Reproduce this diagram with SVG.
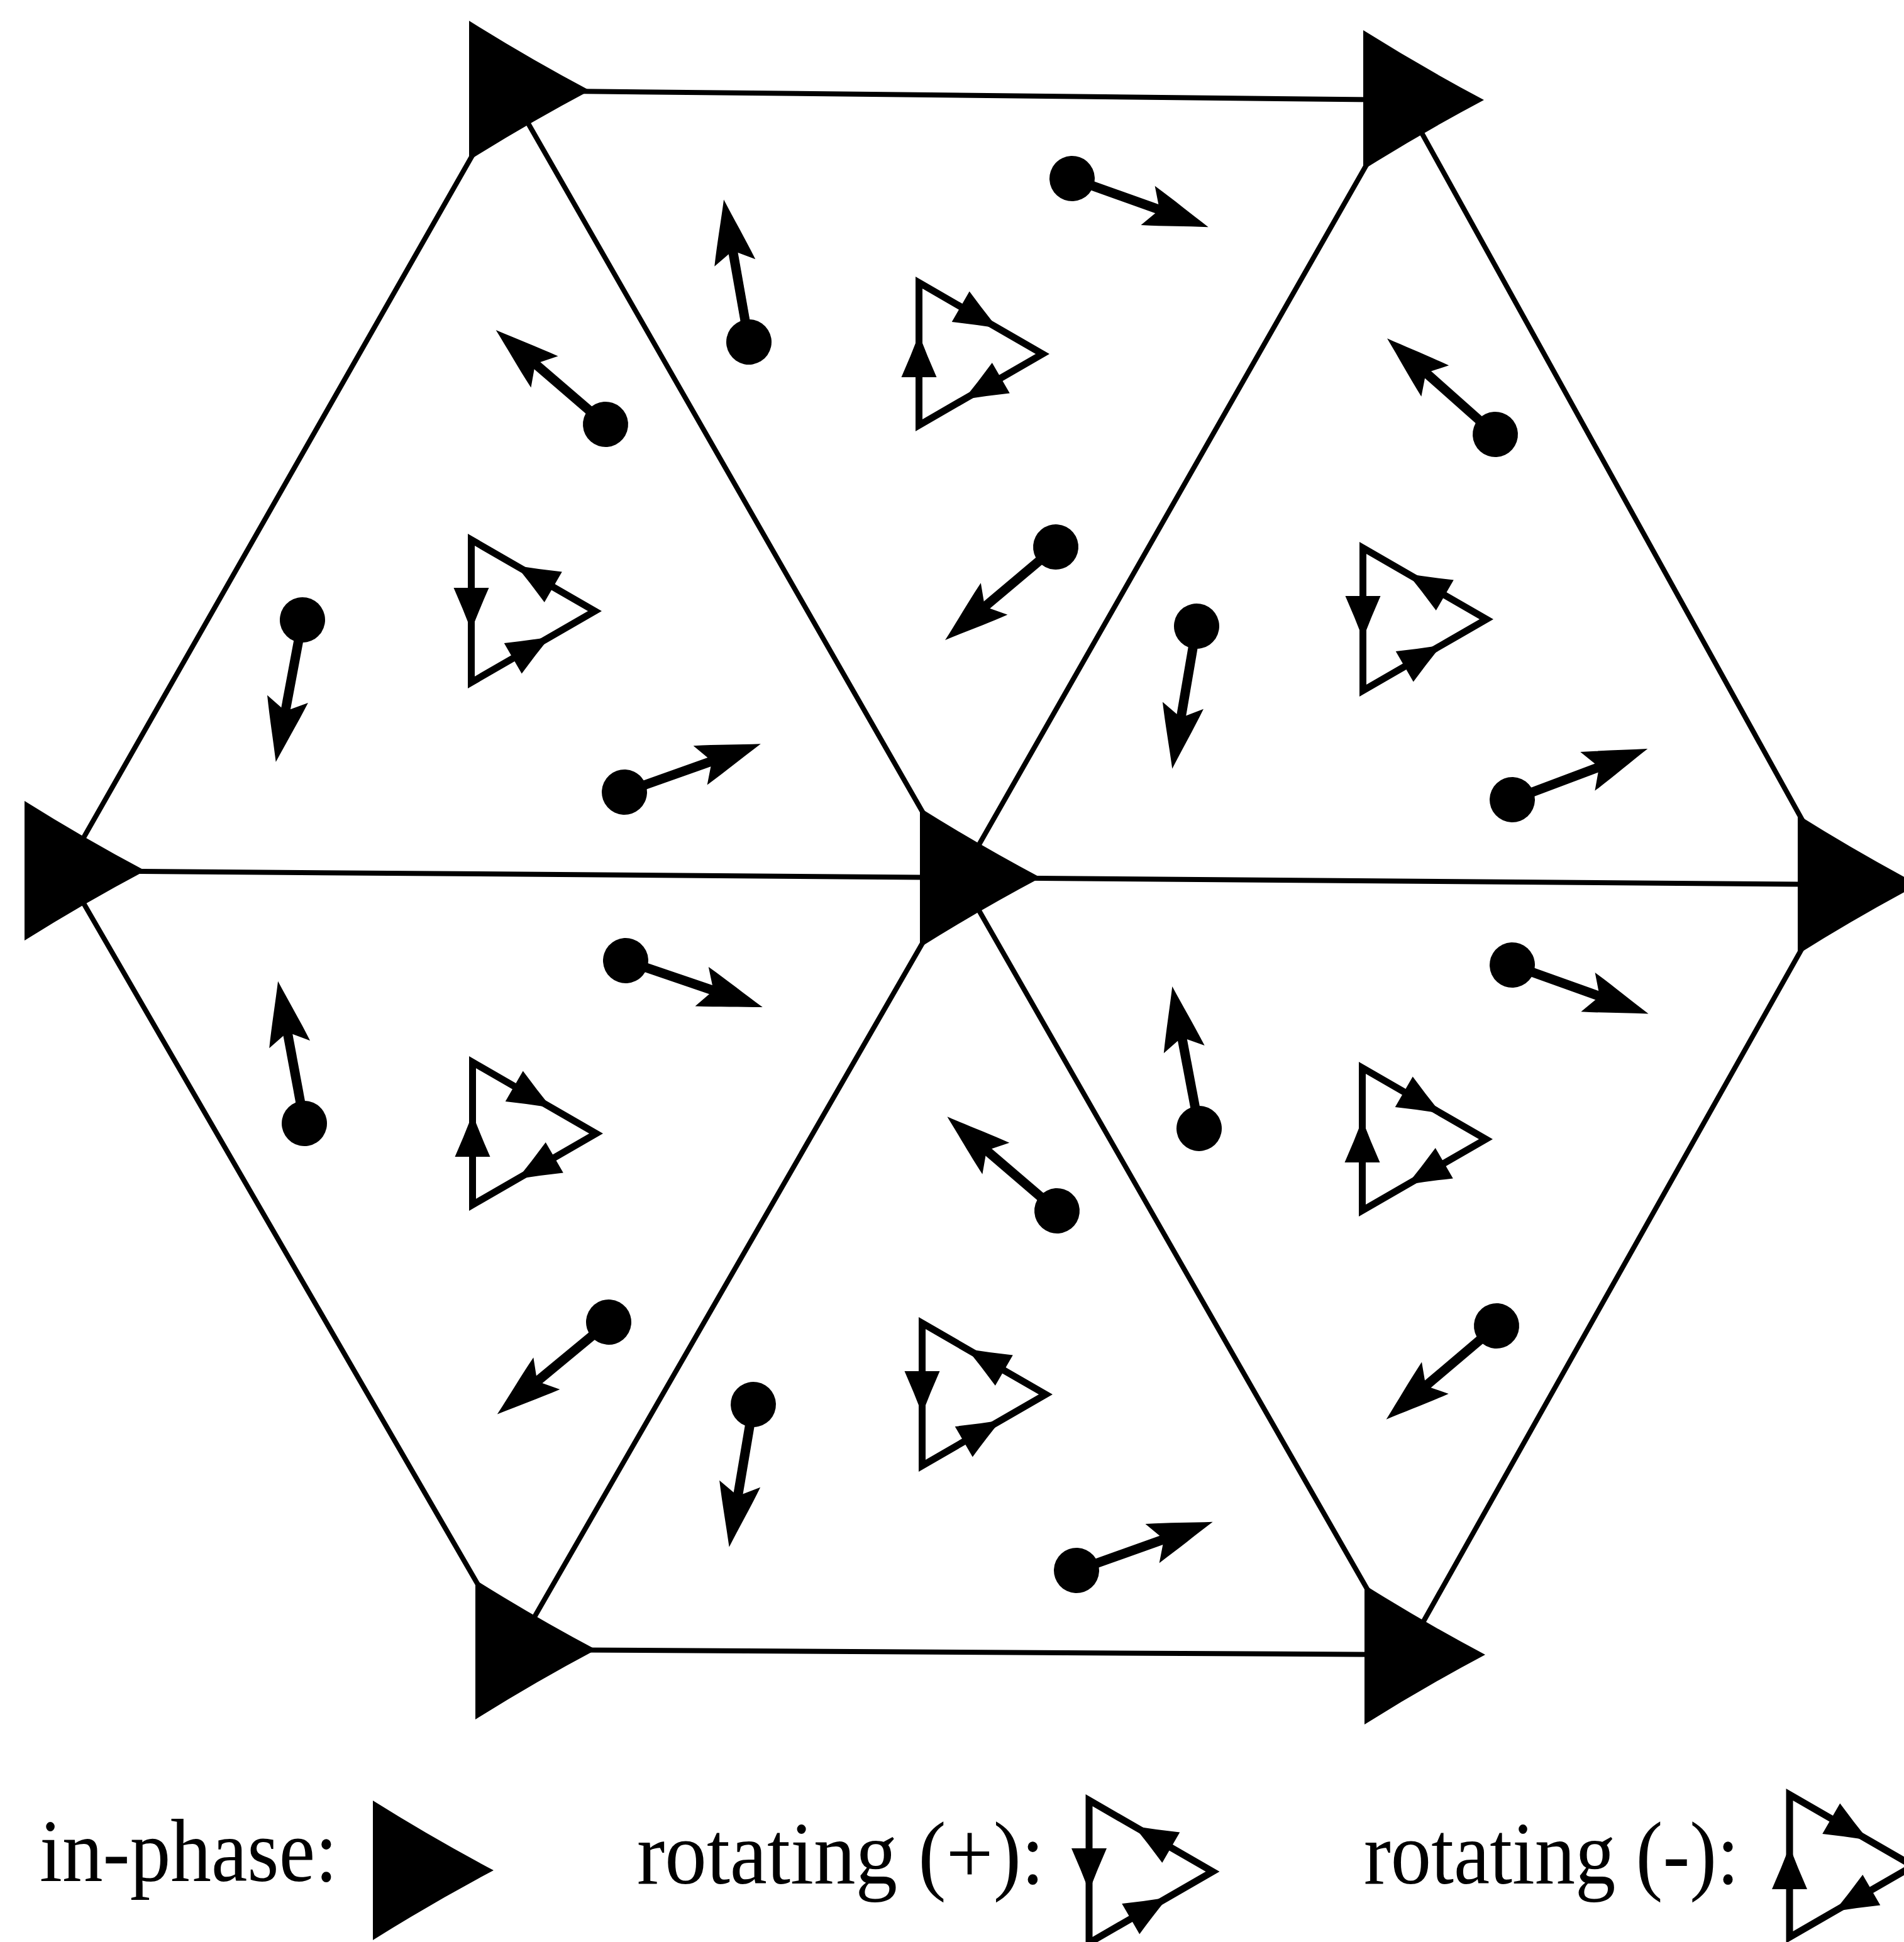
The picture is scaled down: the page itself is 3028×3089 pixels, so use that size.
<svg xmlns="http://www.w3.org/2000/svg" width="3028" height="3089" viewBox="0 0 3028 3089">
<style>
  .edge{stroke:#000;stroke-width:8;fill:none;stroke-linecap:round}
  .rot{fill:none;stroke:#000;stroke-width:11;stroke-linejoin:miter}
  .blk{fill:#000}
  text{font-family:"Liberation Serif","Times New Roman",serif;font-size:142px;fill:#000}
</style>
<defs>
  <path id="inphase" class="blk" d="M-64,-111 Q30,-52 128,0 Q30,52 -64,111 Z"/>
  <path id="ah" class="blk" d="M0,0 Q-34,-13 -68,-28 L-68,28 Q-34,13 0,0 Z"/>
  <g id="rotP">
    <polygon class="rot" points="-65.5,-113.4 131,0 -65.5,113.4"/>
    <use href="#ah" transform="translate(-65.5,31) rotate(90)"/>
    <use href="#ah" transform="translate(59.6,41.2) rotate(-30)"/>
    <use href="#ah" transform="translate(5.9,-72.2) rotate(-150)"/>
  </g>
  <g id="rotM">
    <polygon class="rot" points="-65.5,-113.4 131,0 -65.5,113.4"/>
    <use href="#ah" transform="translate(-65.5,-31) rotate(-90)"/>
    <use href="#ah" transform="translate(59.6,-41.2) rotate(30)"/>
    <use href="#ah" transform="translate(5.9,72.2) rotate(150)"/>
  </g>
  <g id="pin">
    <circle r="36" class="blk"/>
    <line x1="0" y1="0" x2="150" y2="0" stroke="#000" stroke-width="15"/>
    <path class="blk" d="M230,0 C195,-11 165,-22 128,-33 L144,-6 L144,6 L128,33 C165,22 195,11 230,0 Z"/>
  </g>
</defs>

<g id="edges">
  <line class="edge" x1="810" y1="144" x2="2232" y2="159"/>
  <line class="edge" x1="103" y1="1385" x2="1527" y2="1396"/>
  <line class="edge" x1="1527" y1="1396" x2="2923" y2="1407"/>
  <line class="edge" x1="820" y1="2624" x2="2234" y2="2632"/>
  <line class="edge" x1="810" y1="144" x2="103" y2="1385"/>
  <line class="edge" x1="810" y1="144" x2="1527" y2="1396"/>
  <line class="edge" x1="2232" y1="159" x2="1527" y2="1396"/>
  <line class="edge" x1="2232" y1="159" x2="2923" y2="1407"/>
  <line class="edge" x1="103" y1="1385" x2="820" y2="2624"/>
  <line class="edge" x1="1527" y1="1396" x2="820" y2="2624"/>
  <line class="edge" x1="1527" y1="1396" x2="2234" y2="2632"/>
  <line class="edge" x1="2923" y1="1407" x2="2234" y2="2632"/>
</g>

<g id="node-TL"><use href="#inphase" transform="translate(810,144)"/></g>
<g id="node-TR"><use href="#inphase" transform="translate(2232,159)"/></g>
<g id="node-L"><use href="#inphase" transform="translate(103,1385)"/></g>
<g id="node-C"><use href="#inphase" transform="translate(1527,1396)"/></g>
<g id="node-R"><use href="#inphase" transform="translate(2923,1407)"/></g>
<g id="node-BL"><use href="#inphase" transform="translate(820,2624)"/></g>
<g id="node-BR"><use href="#inphase" transform="translate(2234,2632)"/></g>

<g id="rotating">
  <use href="#rotP" transform="translate(815,972)"/>
  <use href="#rotM" transform="translate(1527,563)"/>
  <use href="#rotP" transform="translate(2233,985)"/>
  <use href="#rotM" transform="translate(817,1803)"/>
  <use href="#rotP" transform="translate(1532,2218)"/>
  <use href="#rotM" transform="translate(2232,1812)"/>
</g>

<g id="pins">
  <use href="#pin" transform="translate(963,675) rotate(-139.3)"/>
  <use href="#pin" transform="translate(481,986) rotate(100.6)"/>
  <use href="#pin" transform="translate(993,1260) rotate(-19.5)"/>
  <use href="#pin" transform="translate(1705,284) rotate(19.6)"/>
  <use href="#pin" transform="translate(1191,544) rotate(-100)"/>
  <use href="#pin" transform="translate(1679,870) rotate(139.9)"/>
  <use href="#pin" transform="translate(2378,691) rotate(-138.4)"/>
  <use href="#pin" transform="translate(1903,996) rotate(99.7)"/>
  <use href="#pin" transform="translate(2405,1272) rotate(-20.6)"/>
  <use href="#pin" transform="translate(995,1528) rotate(18.8)"/>
  <use href="#pin" transform="translate(484,1787) rotate(-100.5)"/>
  <use href="#pin" transform="translate(968,2103) rotate(140.4)"/>
  <use href="#pin" transform="translate(1681,1926) rotate(-139.4)"/>
  <use href="#pin" transform="translate(1198,2234) rotate(99.6)"/>
  <use href="#pin" transform="translate(1712,2498) rotate(-19.6)"/>
  <use href="#pin" transform="translate(2405,1535) rotate(19.7)"/>
  <use href="#pin" transform="translate(1907,1795) rotate(-100.7)"/>
  <use href="#pin" transform="translate(2380,2109) rotate(139.7)"/>
</g>

<g id="legend">
  <text x="63" y="2992" textLength="474" lengthAdjust="spacingAndGlyphs">in-phase:</text>
  <use href="#inphase" transform="translate(657,2975)"/>
  <text x="1013" y="2996" textLength="648" lengthAdjust="spacingAndGlyphs">rotating (+):</text>
  <use href="#rotP" transform="translate(1797.5,2977)"/>
  <text x="2169" y="2996" textLength="597" lengthAdjust="spacingAndGlyphs">rotating (-):</text>
  <use href="#rotM" transform="translate(2911.5,2968)"/>
</g>
</svg>
